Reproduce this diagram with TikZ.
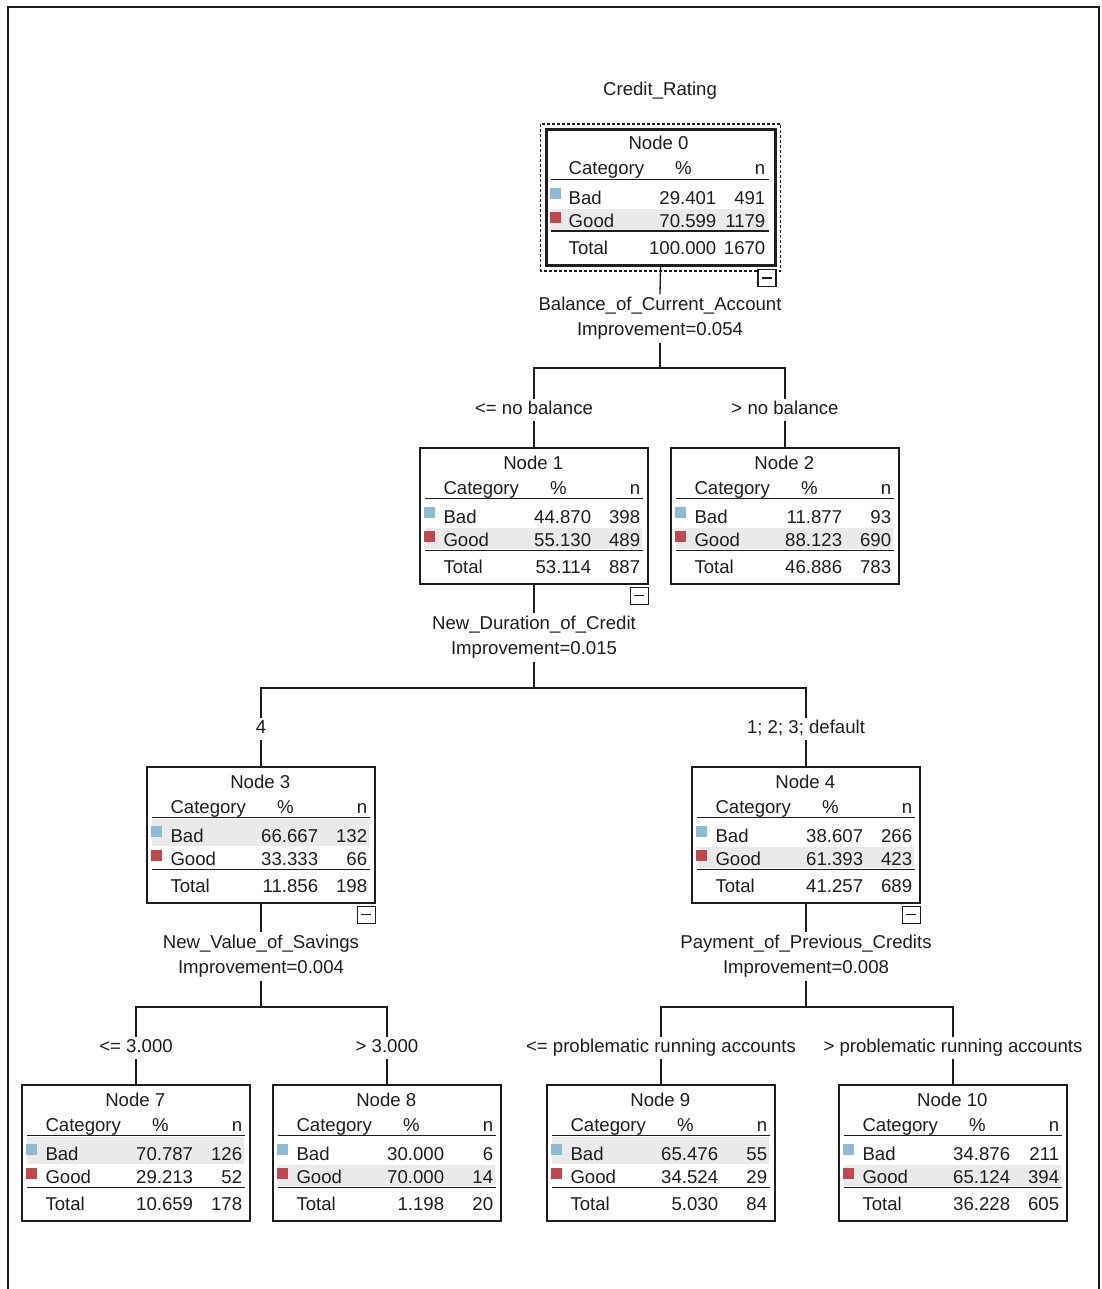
\documentclass[tikz,border=0pt]{standalone}
\usepackage{fontspec}
\setmainfont{Liberation Sans}
\definecolor{badc}{RGB}{142,186,211}
\definecolor{goodc}{RGB}{192,72,80}
\definecolor{hl}{RGB}{234,234,234}
\definecolor{ink}{RGB}{30,30,30}
\tikzset{
  every node/.style={font=\fontsize{18.6}{25}\selectfont, text=ink},
  cell/.style={inner sep=0pt},
  box/.style={draw=ink, line width=1.4pt, fill=white, minimum width=228pt, minimum height=136pt, inner sep=0pt},
  rootbox/.style={box, line width=3pt, minimum width=229pt},
  split/.style={align=center, inner sep=0pt, minimum height=48pt},
  branch/.style={inner sep=0pt, text height=13.5pt, text depth=4pt, inner ysep=2.5pt},
  conn/.style={draw=ink, line width=1.3pt},
  rule/.style={draw=ink, line width=1.3pt},
  collapse/.style={draw=ink, line width=1.2pt, fill=white, minimum width=18pt, minimum height=17pt, inner sep=0pt,
    path picture={\draw[ink, line width=1.3pt] ([xshift=4pt]path picture bounding box.west) -- ([xshift=-4pt]path picture bounding box.east);}},
}
% #1 number, #2 bad %, #3 bad n, #4 good %, #5 good n, #6 total %, #7 total n, #8 highlighted row
\newcommand\tabl[8]{%
  \begin{scope}[shift={(n#1.north west)}]
    \ifnum#8=1 \fill[hl] (6,53) rectangle (223,80); \else \fill[hl] (6,81) rectangle (223,102); \fi
    \draw[rule] (6,51.5) -- (224,51.5);
    \draw[rule] (6,103) -- (224,103);
    \fill[badc] (5,60) rectangle (16,71);
    \fill[goodc] (5,84) rectangle (16,95);
    \node[cell, anchor=base] (n#1-title) at (114,22) {Node #1};
    \node[cell, anchor=base west] (n#1-cat) at (24,47) {Category};
    \node[cell, anchor=base] (n#1-pct) at (139,47) {\%};
    \node[cell, anchor=base east] (n#1-n) at (221,47) {n};
    \node[cell, anchor=base west] (n#1-bad) at (24,76.5) {Bad};
    \node[cell, anchor=base east] (n#1-badp) at (172,76.5) {#2};
    \node[cell, anchor=base east] (n#1-badn) at (221,76.5) {#3};
    \node[cell, anchor=base west] (n#1-good) at (24,99.5) {Good};
    \node[cell, anchor=base east] (n#1-goodp) at (172,99.5) {#4};
    \node[cell, anchor=base east] (n#1-goodn) at (221,99.5) {#5};
    \node[cell, anchor=base west] (n#1-tot) at (24,126.5) {Total};
    \node[cell, anchor=base east] (n#1-totp) at (172,126.5) {#6};
    \node[cell, anchor=base east] (n#1-totn) at (221,126.5) {#7};
  \end{scope}}
\begin{document}
\begin{tikzpicture}[x=1pt, y=-1pt]
\useasboundingbox (0,0) rectangle (1101,1289);
\fill[white] (0,0) rectangle (1101,1289);
% frame
\draw[ink, line width=2pt] (7.5,1289) -- (7.5,7.5) -- (1099,7.5) -- (1099,1289);

% title
\node[branch] (title) at (660,91) {Credit\_Rating};

% boxes
\node[rootbox] (n0) at (660.5,197.5) {};
\node[box] (n1) at (534,516) {};
\node[box] (n2) at (785,516) {};
\node[box] (n3) at (261,835) {};
\node[box] (n4) at (806,835) {};
\node[box] (n7) at (136,1153) {};
\node[box] (n8) at (387,1153) {};
\node[box] (n9) at (661,1153) {};
\node[box] (n10) at (953,1153) {};

\draw[ink, line width=1.4pt, dash pattern=on 3pt off 2pt] ([shift={(-4pt,4pt)}]n0.north west) rectangle ([shift={(4pt,-4pt)}]n0.south east);

% split labels
\node[split] (s0) at (660,318.5) {Balance\_of\_Current\_Account\\Improvement=0.054};
\node[split] (s1) at (534,637.5) {New\_Duration\_of\_Credit\\Improvement=0.015};
\node[split] (s3) at (261,956.5) {New\_Value\_of\_Savings\\Improvement=0.004};
\node[split] (s4) at (806,956.5) {Payment\_of\_Previous\_Credits\\Improvement=0.008};

\coordinate (b0) at (660,368);
\coordinate (b1) at (534,688);
\coordinate (b3) at (261,1007);
\coordinate (b4) at (806,1007);

% branch labels
\node[branch] (l1) at (534,410) {<= no balance};
\node[branch] (l2) at (785,410) {> no balance};
\node[branch] (l3) at (261,729) {4};
\node[branch] (l4) at (806,729) {1; 2; 3; default};
\node[branch] (l7) at (136,1048) {<= 3.000};
\node[branch] (l8) at (387,1048) {> 3.000};
\node[branch] (l9) at (661,1048) {<= problematic running accounts};
\node[branch] (l10) at (953,1048) {> problematic running accounts};

% connectors
\draw[conn] (n0.south) -- (s0.north);
\draw[conn] (s0.south) -- (b0);
\draw[conn] (l1.north) |- (b0) -| (l2.north);
\draw[conn] (l1.south) -- (n1.north);
\draw[conn] (l2.south) -- (n2.north);

\draw[conn] (n1.south) -- (s1.north);
\draw[conn] (s1.south) -- (b1);
\draw[conn] (l3.north) |- (b1) -| (l4.north);
\draw[conn] (l3.south) -- (n3.north);
\draw[conn] (l4.south) -- (n4.north);

\draw[conn] (n3.south) -- (s3.north);
\draw[conn] (s3.south) -- (b3);
\draw[conn] (l7.north) |- (b3) -| (l8.north);
\draw[conn] (l7.south) -- (n7.north);
\draw[conn] (l8.south) -- (n8.north);

\draw[conn] (n4.south) -- (s4.north);
\draw[conn] (s4.south) -- (b4);
\draw[conn] (l9.north) |- (b4) -| (l10.north);
\draw[conn] (l9.south) -- (n9.north);
\draw[conn] (l10.south) -- (n10.north);

% tables
\tabl{0}{29.401}{491}{70.599}{1179}{100.000}{1670}{2}
\tabl{1}{44.870}{398}{55.130}{489}{53.114}{887}{2}
\tabl{2}{11.877}{93}{88.123}{690}{46.886}{783}{2}
\tabl{3}{66.667}{132}{33.333}{66}{11.856}{198}{1}
\tabl{4}{38.607}{266}{61.393}{423}{41.257}{689}{2}
\tabl{7}{70.787}{126}{29.213}{52}{10.659}{178}{1}
\tabl{8}{30.000}{6}{70.000}{14}{1.198}{20}{2}
\tabl{9}{65.476}{55}{34.524}{29}{5.030}{84}{1}
\tabl{10}{34.876}{211}{65.124}{394}{36.228}{605}{2}

% collapse toggles
\node[collapse, anchor=north east] (c0) at ([yshift=-2pt]n0.south east) {};
\node[collapse, anchor=north east] (c1) at ([yshift=-2pt]n1.south east) {};
\node[collapse, anchor=north east] (c3) at ([yshift=-2pt]n3.south east) {};
\node[collapse, anchor=north east] (c4) at ([yshift=-2pt]n4.south east) {};
\end{tikzpicture}
\end{document}
